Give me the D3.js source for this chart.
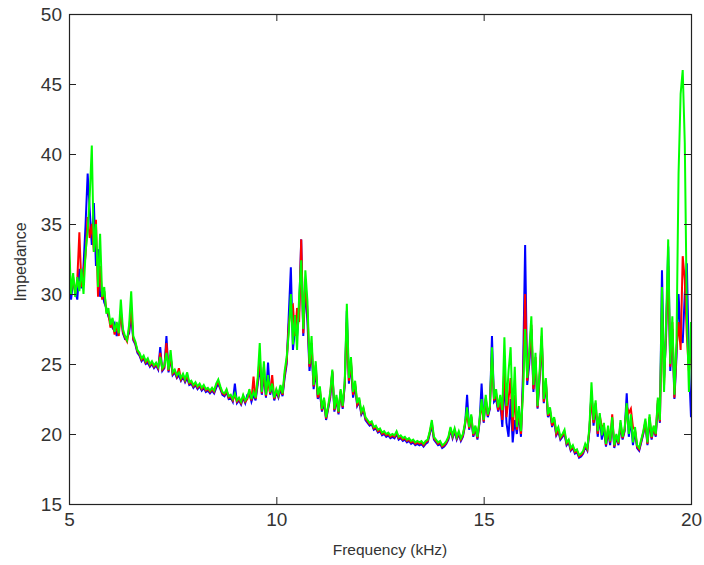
<!DOCTYPE html>
<html>
<head>
<meta charset="utf-8">
<script src="https://cdnjs.cloudflare.com/ajax/libs/d3/7.8.5/d3.min.js"></script>
<style>
  body { margin: 0; background: #fff; }
  svg { display: block; }
  .axis text { font-family: "Liberation Sans", Arial, sans-serif; fill: #333; }
  .axis path { display: none; }
  .axis line { stroke: #222; }
</style>
</head>
<body>
<svg id="chart"></svg>
<script>
// frequency grid: 5 to 20 kHz, one reading every 0.05 kHz
var freqStart = 5, freqStep = 0.05;

// impedance readings, one row per kHz (5.00 .. 5.95, 6.00 .. 6.95, ...) plus 20.00
var blueImp = [
  31.5, 29.6, 31.0, 30.2, 29.6, 31.8, 30.4, 32.0, 35.0, 38.6, 36.0, 33.5, 36.5, 32.0, 33.2, 29.8, 30.2, 29.4, 29.0, 28.4,
  28.0, 27.6, 27.9, 27.0, 27.5, 28.6, 27.2, 26.8, 26.9, 27.2, 28.5, 26.7, 26.4, 25.8, 25.6, 25.2, 25.4, 25.0, 25.1, 24.8,
  25.0, 24.7, 24.9, 24.6, 26.2, 24.5, 24.7, 27.0, 24.4, 25.5, 24.2, 24.4, 24.0, 24.2, 23.8, 24.1, 23.7, 24.0, 23.5, 23.6,
  23.3, 23.5, 23.2, 23.4, 23.1, 23.3, 23.0, 23.1, 22.9, 23.1, 22.9, 23.3, 23.6, 23.2, 22.8, 22.7, 23.0, 22.5, 22.6, 22.3,
  23.6, 22.2, 22.4, 22.1, 22.6, 22.2, 22.8, 22.9, 22.3, 22.8, 22.4, 23.5, 25.0, 22.8, 24.2, 22.6, 25.1, 22.8, 23.4, 22.4,
  23.0, 22.6, 23.2, 22.7, 24.0, 25.0, 28.5, 31.9, 26.0, 27.5, 27.0, 28.8, 33.9, 27.0, 30.5, 28.0, 24.5, 26.0, 23.2, 24.6,
  22.5, 23.0, 21.6, 22.3, 21.0, 21.8, 22.6, 24.4, 21.6, 22.5, 21.4, 23.0, 21.8, 23.5, 28.8, 23.6, 25.0, 22.6, 23.4, 22.0,
  22.3, 21.4, 21.7, 21.0, 20.8, 20.6, 20.7, 20.3, 20.4, 20.1, 20.2, 19.9, 20.0, 19.8, 19.9, 19.7, 19.8, 19.7, 20.0, 19.6,
  19.7, 19.5, 19.6, 19.4, 19.5, 19.3, 19.4, 19.2, 19.3, 19.2, 19.3, 19.1, 19.3, 19.4, 20.0, 20.6, 19.6, 19.4, 19.2, 19.3,
  19.0, 19.1, 19.3, 19.6, 20.3, 19.7, 20.2, 19.6, 20.0, 19.5, 19.8, 20.6, 22.8, 20.3, 21.2, 19.8, 20.4, 19.6, 20.8, 23.6,
  20.8, 22.5, 21.2, 21.8, 27.0, 22.3, 22.5, 21.6, 22.3, 20.5, 24.0, 20.8, 19.8, 22.5, 19.4, 21.0, 20.0, 21.5, 19.8, 24.5,
  33.5, 23.5, 25.0, 27.5, 23.0, 25.2, 21.8, 24.0, 26.8, 22.2, 23.6, 21.2, 21.6, 20.5, 21.0, 19.9, 20.2, 19.6, 19.8, 20.0,
  19.2, 19.4, 18.8, 19.0, 18.6, 18.7, 18.3, 18.4, 18.6, 19.1, 18.8, 20.2, 23.0, 20.6, 22.0, 19.8, 21.2, 19.6, 20.4, 19.1,
  20.2, 19.2, 21.0, 19.0, 19.8, 19.2, 20.6, 19.6, 20.2, 22.9, 19.8, 21.0, 19.2, 20.2, 19.0, 18.8, 19.4, 20.0, 20.8, 19.2,
  21.0, 19.6, 20.4, 19.8, 22.2, 20.8, 31.7, 24.0, 27.0, 33.4, 24.5, 27.5, 22.5, 25.5, 30.0, 27.0, 26.5, 30.0, 32.2, 25.0,
  21.2
];

var redImp = [
  32.5, 30.2, 31.2, 30.0, 31.0, 34.4, 30.5, 31.5, 32.8, 35.5, 34.0, 35.0, 33.0, 35.3, 29.8, 32.0, 29.6, 30.2, 28.8, 28.6,
  27.6, 28.0, 27.1, 27.8, 27.0, 28.8, 27.3, 26.9, 26.6, 27.5, 29.0, 26.8, 26.5, 25.9, 25.7, 25.3, 25.5, 25.1, 25.3, 24.9,
  25.1, 24.8, 25.0, 24.7, 25.8, 24.6, 24.8, 26.5, 24.5, 25.6, 24.3, 24.5, 24.1, 24.7, 23.9, 24.2, 23.8, 24.2, 23.6, 23.7,
  23.4, 23.6, 23.3, 23.5, 23.2, 23.4, 23.1, 23.2, 23.0, 23.2, 23.0, 23.5, 23.7, 23.3, 22.9, 22.8, 23.1, 22.6, 22.7, 22.4,
  22.8, 22.3, 22.5, 22.2, 22.7, 22.3, 22.5, 23.0, 22.4, 24.1, 22.5, 23.8, 25.5, 22.9, 24.8, 22.7, 23.8, 22.9, 24.2, 22.5,
  23.1, 22.7, 23.4, 22.8, 24.2, 25.2, 27.8, 29.0, 29.2, 27.0, 29.0, 28.0, 33.9, 27.2, 31.0, 28.8, 24.8, 26.5, 23.4, 24.9,
  22.6, 23.2, 21.7, 22.5, 21.1, 21.9, 22.8, 24.5, 21.7, 22.6, 21.5, 23.1, 21.9, 23.6, 28.0, 23.8, 25.2, 22.8, 23.6, 22.1,
  22.4, 21.5, 21.8, 21.1, 20.9, 20.7, 20.8, 20.4, 20.5, 20.2, 20.3, 20.0, 20.1, 19.9, 20.0, 19.8, 19.9, 19.8, 20.1, 19.7,
  19.8, 19.6, 19.7, 19.5, 19.6, 19.4, 19.5, 19.3, 19.4, 19.3, 19.4, 19.2, 19.4, 19.5, 20.1, 20.8, 19.7, 19.5, 19.3, 19.4,
  19.1, 19.2, 19.4, 19.7, 20.4, 19.8, 20.3, 19.7, 20.1, 19.6, 19.9, 20.7, 21.5, 20.4, 21.3, 19.9, 20.5, 19.7, 20.9, 22.2,
  20.9, 22.6, 21.3, 21.9, 25.5, 22.4, 22.9, 21.7, 22.5, 21.0, 25.0, 21.2, 22.5, 24.0, 20.2, 22.8, 20.3, 21.7, 20.0, 23.5,
  30.0, 23.8, 25.5, 27.8, 23.2, 25.5, 21.9, 24.2, 27.0, 22.3, 23.8, 21.3, 21.7, 20.6, 21.1, 20.0, 20.3, 19.7, 19.9, 20.1,
  19.3, 19.5, 18.9, 19.1, 18.7, 18.8, 18.4, 18.5, 18.7, 19.2, 18.9, 20.3, 22.8, 20.8, 22.2, 20.0, 21.3, 20.5, 20.6, 19.2,
  20.4, 19.4, 21.4, 19.1, 19.9, 19.3, 20.8, 19.7, 20.3, 22.0, 21.5, 21.8, 20.5, 20.3, 19.1, 18.9, 19.5, 20.1, 20.9, 19.3,
  21.2, 19.7, 20.5, 19.9, 22.4, 20.9, 29.0, 23.5, 27.5, 32.0, 24.8, 28.0, 22.6, 26.0, 28.0, 26.0, 32.7, 31.0, 27.0, 24.5,
  26.0
];

var greenImp = [
  33.8, 30.0, 31.5, 29.8, 31.2, 30.2, 31.8, 30.0, 33.0, 34.5, 37.0, 40.6, 33.0, 35.0, 30.5, 34.3, 29.8, 30.5, 28.6, 29.0,
  27.8, 28.3, 27.3, 28.0, 27.2, 29.6, 27.5, 27.0, 26.7, 27.8, 30.2, 27.0, 26.6, 26.0, 25.8, 25.4, 25.6, 25.2, 25.4, 25.0,
  25.2, 24.9, 25.1, 24.8, 25.5, 24.7, 24.9, 25.8, 24.6, 26.0, 24.4, 24.6, 24.2, 24.4, 24.0, 24.3, 23.9, 24.4, 23.7, 23.8,
  23.5, 23.7, 23.4, 23.6, 23.3, 23.5, 23.2, 23.3, 23.1, 23.3, 23.1, 23.6, 23.9, 23.4, 23.0, 22.9, 23.2, 22.7, 22.8, 22.5,
  22.9, 22.4, 22.6, 22.3, 22.8, 22.4, 22.6, 23.2, 22.5, 23.0, 22.6, 24.0, 26.5, 23.0, 25.2, 22.8, 24.2, 23.0, 23.6, 22.6,
  23.2, 22.8, 23.5, 22.9, 24.5, 25.5, 27.2, 30.0, 26.4, 28.5, 26.0, 29.8, 32.4, 27.5, 31.7, 29.5, 25.0, 27.0, 23.5, 25.2,
  22.8, 23.4, 21.8, 22.6, 21.2, 22.0, 23.0, 24.6, 21.8, 22.8, 21.6, 23.2, 22.0, 23.8, 29.3, 24.0, 25.5, 23.0, 23.8, 22.2,
  22.6, 21.6, 21.9, 21.2, 21.0, 20.8, 20.9, 20.5, 20.6, 20.3, 20.4, 20.1, 20.2, 20.0, 20.1, 19.9, 20.0, 19.9, 20.2, 19.8,
  19.9, 19.7, 19.8, 19.6, 19.7, 19.5, 19.6, 19.4, 19.5, 19.4, 19.5, 19.3, 19.5, 19.6, 20.2, 21.0, 19.8, 19.6, 19.4, 19.5,
  19.2, 19.3, 19.5, 19.8, 20.5, 19.9, 20.4, 19.8, 20.2, 19.7, 20.0, 20.8, 21.9, 20.5, 21.4, 20.0, 20.6, 19.8, 21.0, 22.5,
  21.0, 22.8, 21.4, 22.0, 26.2, 22.5, 23.2, 21.9, 22.8, 21.7, 26.9, 22.0, 24.5, 26.2, 21.2, 24.8, 20.5, 22.0, 20.2, 23.0,
  27.5, 24.0, 26.0, 28.4, 23.5, 25.8, 22.0, 24.5, 27.6, 22.5, 24.0, 21.4, 21.9, 20.8, 21.2, 20.2, 20.5, 19.8, 20.0, 20.3,
  19.4, 19.6, 19.0, 19.2, 18.8, 18.9, 18.5, 18.6, 18.8, 19.3, 19.0, 20.5, 23.7, 21.0, 22.4, 20.2, 21.5, 19.9, 20.8, 19.3,
  20.6, 19.5, 21.2, 19.2, 20.0, 19.4, 21.0, 19.8, 20.4, 22.2, 20.0, 21.4, 19.4, 20.5, 19.2, 19.0, 19.6, 20.2, 21.1, 19.4,
  21.4, 19.8, 20.6, 20.0, 22.6, 21.0, 30.5, 23.0, 28.0, 33.9, 25.0, 28.4, 22.8, 26.5, 38.6, 44.3, 46.0, 40.8, 28.5, 23.0,
  28.0
];

var xTicks = [5, 10, 15, 20];
var yTicks = [15, 20, 25, 30, 35, 40, 45, 50];
var xLabel = "Frequency (kHz)";
var yLabel = "Impedance";

var width = 704, height = 565;
var margin = {top: 14, right: 13, bottom: 61, left: 69};
var plotW = width - margin.left - margin.right;
var plotH = height - margin.top - margin.bottom;

var svg = d3.select("#chart")
  .attr("width", width)
  .attr("height", height);

var xScale = d3.scaleLinear()
  .domain([5, 20])
  .range([margin.left, margin.left + plotW]);

var yScale = d3.scaleLinear()
  .domain([15, 50])
  .range([margin.top + plotH, margin.top]);

svg.append("defs").append("clipPath")
  .attr("id", "plotClip")
  .append("rect")
  .attr("x", margin.left)
  .attr("y", margin.top)
  .attr("width", plotW)
  .attr("height", plotH);

var line = d3.line()
  .x(function(d, i) { return xScale(freqStart + i * freqStep); })
  .y(function(d) { return yScale(d); });

var series = [
  {name: "blue", values: blueImp, color: "#0000ff"},
  {name: "red", values: redImp, color: "#ff0000"},
  {name: "green", values: greenImp, color: "#00ff00"}
];

svg.append("g")
  .attr("clip-path", "url(#plotClip)")
  .selectAll("path")
  .data(series)
  .enter()
  .append("path")
  .attr("d", function(d) { return line(d.values); })
  .attr("fill", "none")
  .attr("stroke", function(d) { return d.color; })
  .attr("stroke-width", 2)
  .attr("stroke-linejoin", "miter");

// axes, ticks point into the plot like matlab
var tickLen = 7;

svg.append("g")
  .attr("class", "axis")
  .attr("transform", "translate(0," + (margin.top + plotH) + ")")
  .call(d3.axisBottom(xScale).tickValues(xTicks).tickSize(-tickLen).tickSizeOuter(0).tickPadding(9))
  .selectAll("text")
  .style("font-size", "19px");

svg.append("g")
  .attr("class", "axis")
  .attr("transform", "translate(" + margin.left + ",0)")
  .call(d3.axisLeft(yScale).tickValues(yTicks).tickSize(-tickLen).tickSizeOuter(0).tickPadding(7))
  .selectAll("text")
  .style("font-size", "19px");

svg.append("g")
  .attr("class", "axis")
  .attr("transform", "translate(0," + margin.top + ")")
  .call(d3.axisTop(xScale).tickValues(xTicks).tickSize(-tickLen).tickSizeOuter(0).tickFormat(""));

svg.append("g")
  .attr("class", "axis")
  .attr("transform", "translate(" + (margin.left + plotW) + ",0)")
  .call(d3.axisRight(yScale).tickValues(yTicks).tickSize(-tickLen).tickSizeOuter(0).tickFormat(""));

// box
svg.append("rect")
  .attr("x", margin.left + 0.5)
  .attr("y", margin.top + 0.5)
  .attr("width", plotW)
  .attr("height", plotH)
  .attr("fill", "none")
  .attr("stroke", "#222")
  .attr("stroke-width", 1.2);

svg.append("text")
  .attr("x", 390)
  .attr("y", height - 10)
  .attr("text-anchor", "middle")
  .style("font-family", "'Liberation Sans', Arial, sans-serif")
  .style("font-size", "15.5px")
  .style("fill", "#333")
  .text(xLabel);

svg.append("text")
  .attr("transform", "translate(26," + (margin.top + plotH / 2 + 3) + ") rotate(-90)")
  .attr("text-anchor", "middle")
  .style("font-family", "'Liberation Sans', Arial, sans-serif")
  .style("font-size", "16px")
  .style("fill", "#333")
  .text(yLabel);
</script>
</body>
</html>
